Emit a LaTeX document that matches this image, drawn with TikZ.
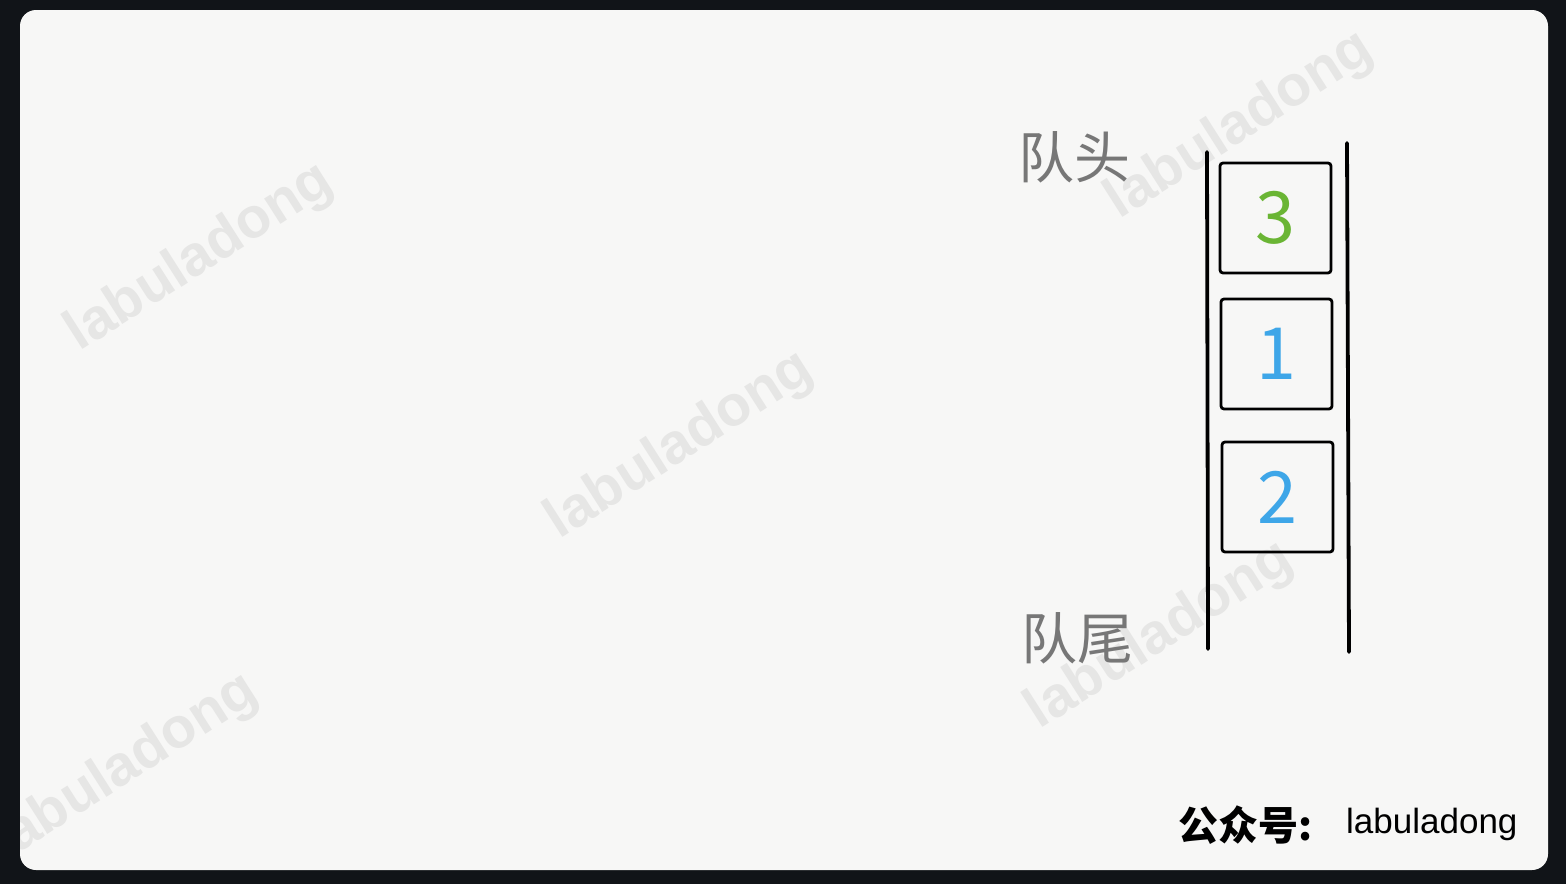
\documentclass[tikz,border=0pt]{standalone}
\usepackage{fontspec}
\setmainfont{Liberation Sans}
\newfontfamily\cjk{Noto Sans CJK SC}
\newfontfamily\wm{Liberation Sans}
\definecolor{frame}{HTML}{111418}
\definecolor{paper}{HTML}{F7F7F6}
\definecolor{mark}{HTML}{E6E6E5}
\definecolor{lbl}{HTML}{777777}
\definecolor{grn}{HTML}{6AB534}
\definecolor{blu}{HTML}{3EA6E8}
\tikzset{
  cell/.style={draw=black, line width=2.8pt, rounded corners=3pt, minimum width=111pt, minimum height=110pt, inner sep=0pt},
  rail/.style={line width=3.8pt, line cap=round},
  qlabel/.style={text=lbl, font=\cjk\fontsize{56}{60}\selectfont, inner sep=0pt, anchor=west},
  wmark/.style={text=mark, font=\wm\bfseries\fontsize{57}{60}\selectfont, rotate=32.5, inner sep=0pt},
  num/.style={font=\cjk\fontsize{72}{76}\selectfont}
}
\begin{document}
\begin{tikzpicture}[x=1pt,y=-1pt]
\useasboundingbox (0,0) rectangle (1566,884);
\fill[frame] (0,0) rectangle (1566,884);
\fill[paper, rounded corners=16pt] (20,10) rectangle (1548,870);
\begin{scope}
\clip[rounded corners=16pt] (20,10) rectangle (1548,870);
\node[wmark] (w1) at (200,258) {labuladong};
\node[wmark] (w2) at (680,446) {labuladong};
\node[wmark] (w3) at (1240,126) {labuladong};
\node[wmark] (w4) at (1160,636) {labuladong};
\node[wmark] (w5) at (125,768) {labuladong};
\end{scope}
% rails
\coordinate (lt) at (1207,152);
\coordinate (lb) at (1208,649);
\coordinate (rt) at (1347,143);
\coordinate (rb) at (1349,652);
\draw[rail] (lt) -- (lb);
\draw[rail] (rt) -- (rb);
% cells
\node[cell] (c3) at (1275.5,218) {};
\node[cell] (c1) at (1276.5,354) {};
\node[cell] (c2) at (1277.5,497) {};
\node[num, text=grn] (n3) at (c3) {3};
\node[num, text=blu] (n1) at (c1) {1};
\node[num, text=blu] (n2) at (c2) {2};
% labels
\node[qlabel] (head) at (1018,157) {队头};
\node[qlabel] (tail) at (1021,638) {队尾};
% footer
\node[font=\cjk\bfseries\fontsize{40}{42}\selectfont, anchor=west, inner sep=0pt] (gzh) at (1178,825) {公众号:};
\node[font=\fontsize{35}{38}\selectfont, anchor=west, inner sep=0pt] (name) at (1346,824) {labuladong};
\end{tikzpicture}
\end{document}
